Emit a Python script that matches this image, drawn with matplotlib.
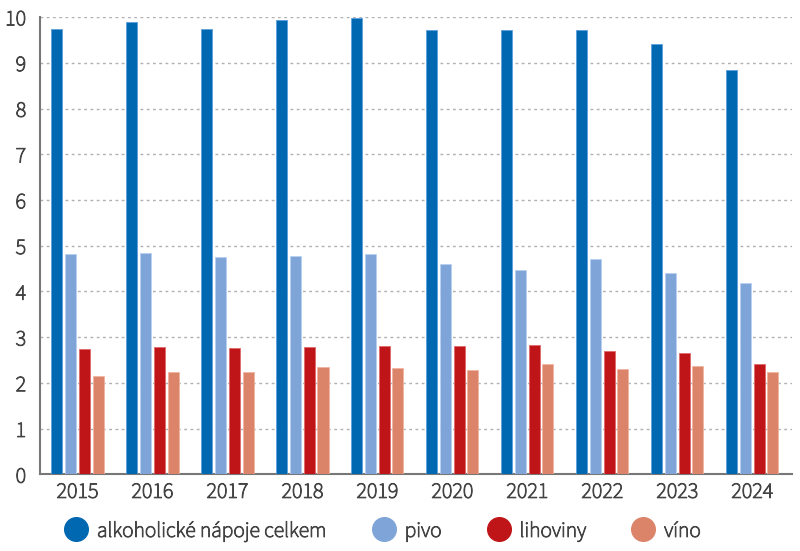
import numpy as np
import matplotlib.pyplot as plt
import matplotlib.patheffects as pe

years = ["2015", "2016", "2017", "2018", "2019", "2020", "2021", "2022", "2023", "2024"]
celkem = [9.75, 9.89, 9.75, 9.93, 9.98, 9.72, 9.72, 9.72, 9.42, 8.85]
pivo = [4.83, 4.85, 4.76, 4.78, 4.82, 4.61, 4.46, 4.70, 4.40, 4.18]
lihoviny = [2.74, 2.78, 2.76, 2.78, 2.81, 2.80, 2.84, 2.70, 2.65, 2.41]
vino = [2.16, 2.24, 2.24, 2.35, 2.33, 2.28, 2.41, 2.30, 2.37, 2.24]

labels = ["alkoholické nápoje celkem", "pivo", "lihoviny", "víno"]
colors = ["#0067b1", "#7fa5d8", "#c01518", "#dc846a"]
edges = ["#5aa0dc", "#b9cff0", "#e06a6a", "#f0b4a0"]

plt.rcParams['font.family'] = ['Source Sans 3', 'DejaVu Sans']
txtcol = '#444444'
thick = [pe.withStroke(linewidth=0.7, foreground=txtcol)]

fig = plt.figure(figsize=(8, 5.51), dpi=100)
ax = fig.add_axes([0.05, 0.139, 0.94, 0.83])

x = np.arange(len(years))
w = 0.147
step = 0.183
series = [celkem, pivo, lihoviny, vino]
for i, vals in enumerate(series):
    ax.bar(x + (i - 1.5) * step, vals, w, color=colors[i], edgecolor=edges[i],
           linewidth=0.6, label=labels[i], zorder=3)

ax.set_xlim(-0.5, 9.53)
ax.set_ylim(0, 10)
ax.set_yticks(range(11))
ax.set_xticks(x)
ax.set_xticklabels(years)
ax.grid(axis='y', color='#b0b0b0', linestyle=(0, (2, 2.5)), linewidth=1, zorder=0)
for s in ['top', 'right']:
    ax.spines[s].set_visible(False)
for s in ['left', 'bottom']:
    ax.spines[s].set_color('#777777')
    ax.spines[s].set_linewidth(1.5)
ax.tick_params(axis='both', length=0, labelsize=16, labelcolor=txtcol)
ax.tick_params(axis='y', pad=10)
ax.tick_params(axis='x', pad=5)
for t in ax.get_xticklabels() + ax.get_yticklabels():
    t.set_path_effects(thick)

handles = [plt.Line2D([], [], marker='o', linestyle='none', markersize=17,
                      markerfacecolor=c, markeredgecolor=c) for c in colors]
leg = fig.legend(handles, labels, loc='center left', bbox_to_anchor=(0.079, 0.036),
                 ncol=4, frameon=False, fontsize=15.5, handletextpad=0.37,
                 columnspacing=2.05, handlelength=1.2, borderpad=0, borderaxespad=0,
                 labelcolor=txtcol)
for t in leg.get_texts():
    t.set_path_effects(thick)

fig.savefig("out.png", dpi=100)
